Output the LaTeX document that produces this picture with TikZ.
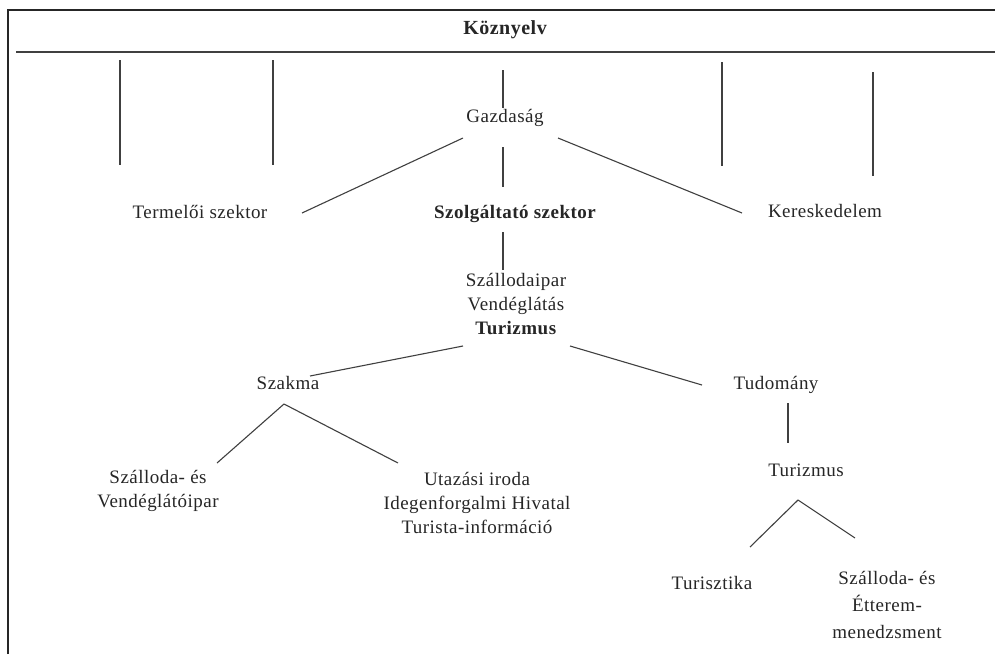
\documentclass[tikz,border=0pt]{standalone}
\usepackage{fontspec}
\setmainfont[LetterSpace=2.5]{Liberation Serif}
\usetikzlibrary{calc}
\begin{document}
\begin{tikzpicture}[x=1pt,y=-1pt,
  lbl/.style={inner sep=0pt, text height=13pt, text depth=4pt, align=center, text=black!85,
    font=\fontsize{19}{24}\selectfont},
  lbl3/.style={inner sep=0pt, align=center, text=black!85, font=\fontsize{19}{27}\selectfont},
  conn/.style={draw=black!75, line width=1.1pt},
  frame/.style={draw=black!85, line width=1.5pt}]
\useasboundingbox (0,0) rectangle (995,654);
\fill[white] (0,0) rectangle (995,654);
% frame
\coordinate (fTL) at (8,10);
\coordinate (fTR) at (995,10);
\coordinate (fBL) at (8,654);
\coordinate (hL) at (16,52);
\coordinate (hR) at (995,52);
\draw[frame] (fBL) -- (fTL) -- (fTR);
\draw[draw=black!75, line width=2.8pt] (hL) -- (hR);
% nodes
\node[lbl, font=\fontsize{20}{24}\selectfont\bfseries] (Koz) at (505,30) {Köznyelv};
\node[lbl] (Gazd) at (505,118) {Gazdaság};
\node[lbl] (Term) at (200,214) {Termelői szektor};
\node[lbl, font=\fontsize{19}{24}\selectfont\bfseries] (Szolg) at (515,214) {Szolgáltató szektor};
\node[lbl] (Ker) at (825,213) {Kereskedelem};
\node[lbl, text height=, text depth=] (Stack) at (516,304) {Szállodaipar\\Vendéglátás\\\textbf{Turizmus}};
\node[lbl] (Szakma) at (288,385) {Szakma};
\node[lbl] (Tud) at (776,385) {Tudomány};
\node[lbl, text height=, text depth=] (SzV) at (158,491) {Szálloda- és\\Vendéglátóipar};
\node[lbl, text height=, text depth=] (Utaz) at (477,503) {Utazási iroda\\Idegenforgalmi Hivatal\\Turista-információ};
\node[lbl] (Tur) at (806,472) {Turizmus};
\node[lbl] (Turisztika) at (712,585) {Turisztika};
\node[lbl3] (SzE) at (887,605) {Szálloda- és\\Étterem-\\menedzsment};
% free verticals
\coordinate (v1a) at (120,60); \coordinate (v1b) at (120,165);
\coordinate (v2a) at (273,60); \coordinate (v2b) at (273,165);
\coordinate (v3a) at (722,62); \coordinate (v3b) at (722,166);
\coordinate (v4a) at (873,72); \coordinate (v4b) at (873,176);
\draw[conn] (v1a) -- (v1b);
\draw[conn] (v2a) -- (v2b);
\draw[conn] (v3a) -- (v3b);
\draw[conn] (v4a) -- (v4b);
% connectors
\draw[conn] ($(Koz)+(-2,40)$) -- ($(Gazd)+(-2,-10)$);
\draw[conn] ($(Gazd)+(-42,20)$) -- ($(Term)+(102,-1)$);
\draw[conn] ($(Gazd)+(-2,29)$) -- ($(Szolg)+(-12,-27)$);
\draw[conn] ($(Gazd)+(53,20)$) -- ($(Ker)+(-83,0)$);
\draw[conn] ($(Szolg)+(-12,18)$) -- ($(Stack)+(-13,-34)$);
\draw[conn] ($(Stack)+(-53,42)$) -- ($(Szakma)+(22,-9)$);
\draw[conn] ($(Stack)+(54,42)$) -- ($(Tud)+(-74,0)$);
\draw[conn] ($(Szakma)+(-4,19)$) -- ($(SzV)+(59,-28)$);
\draw[conn] ($(Szakma)+(-4,19)$) -- ($(Utaz)+(-79,-40)$);
\draw[conn] ($(Tud)+(12,18)$) -- ($(Tur)+(-18,-29)$);
\draw[conn] ($(Tur)+(-8,28)$) -- ($(Turisztika)+(38,-38)$);
\draw[conn] ($(Tur)+(-8,28)$) -- ($(SzE)+(-32,-67)$);
\end{tikzpicture}
\end{document}
